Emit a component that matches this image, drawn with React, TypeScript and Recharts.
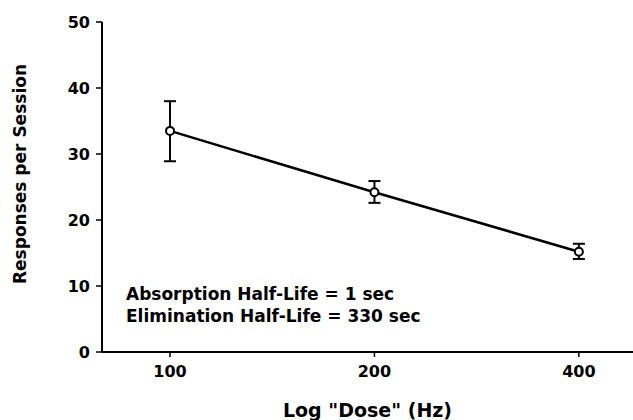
import { LineChart, Line, XAxis, YAxis, ErrorBar, Label } from 'recharts';

// doses (Hz) and mean responses
const doses = [100, 200, 400];
const responses = [33.5, 24.2, 15.2];
// error bar extents (below, above)
const errLow = [4.6, 1.6, 1.1];
const errHigh = [4.5, 1.7, 1.2];

const xTicks = [100, 200, 400];
const yTicks = [0, 10, 20, 30, 40, 50];

const data = doses.map((dose, i) => ({
  dose,
  resp: responses[i],
  err: [errLow[i], errHigh[i]],
}));

const FONT = '"DejaVu Sans", sans-serif';

export default function App() {
  return (
    <div style={{ position: 'absolute', left: 0, top: 0, width: 633, height: 420, background: '#fff' }}>
      <LineChart
        width={633}
        height={420}
        data={data}
        margin={{ top: 22, right: 0, bottom: 38, left: 42 }}
      >
        <XAxis
          dataKey="dose"
          type="number"
          scale="log"
          domain={[79.4, 480.6]}
          ticks={xTicks}
          allowDataOverflow
          axisLine={{ stroke: '#000', strokeWidth: 2 }}
          tickLine={{ stroke: '#000', strokeWidth: 1.5 }}
          tickSize={5}
          tickMargin={9}
          tick={{ fill: '#000', fontSize: 16, fontWeight: 'bold', fontFamily: FONT }}
        >
          <Label
            value={'Log "Dose" (Hz)'}
            position="bottom"
            offset={22}
            style={{ fill: '#000', fontSize: 19, fontWeight: 'bold', fontFamily: FONT }}
          />
        </XAxis>
        <YAxis
          type="number"
          domain={[0, 50]}
          ticks={yTicks}
          width={60}
          axisLine={{ stroke: '#000', strokeWidth: 2 }}
          tickLine={{ stroke: '#000', strokeWidth: 1.5 }}
          tickSize={6}
          tickMargin={6}
          tick={{ fill: '#000', fontSize: 16, fontWeight: 'bold', fontFamily: FONT }}
        />
        <Line
          type="linear"
          dataKey="resp"
          stroke="#000"
          strokeWidth={2.5}
          dot={{ r: 4, stroke: '#000', strokeWidth: 2, fill: '#fff' }}
          activeDot={false}
          isAnimationActive={false}
        >
          <ErrorBar dataKey="err" width={6} stroke="#000" strokeWidth={2} direction="y" />
        </Line>
        <text
          transform="translate(26,174) rotate(-90)"
          textAnchor="middle"
          fontSize={17}
          fontWeight="bold"
          fontFamily={FONT}
          fill="#000"
        >
          Responses per Session
        </text>
        <text x={126} y={300} fontSize={17} fontWeight="bold" fontFamily={FONT} fill="#000">
          Absorption Half-Life = 1 sec
        </text>
        <text x={126} y={322} fontSize={17} fontWeight="bold" fontFamily={FONT} fill="#000">
          Elimination Half-Life = 330 sec
        </text>
      </LineChart>
    </div>
  );
}
